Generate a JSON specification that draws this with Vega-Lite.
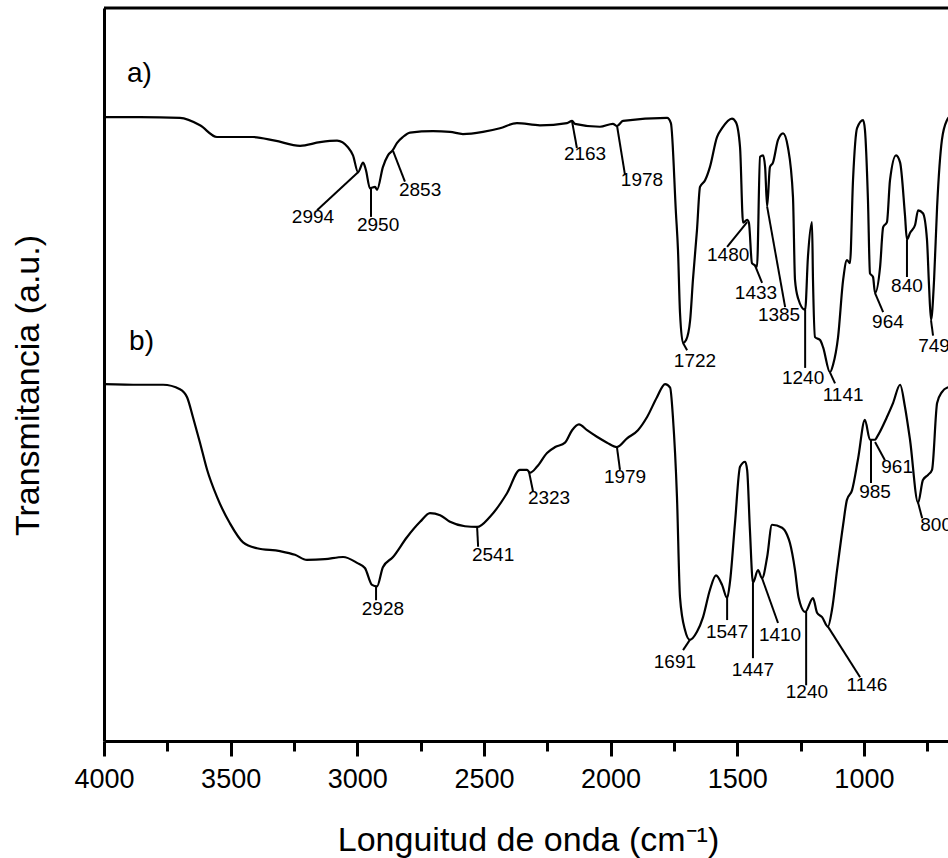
{
  "$schema": "https://vega.github.io/schema/vega-lite/v6.json",
  "width": 844,
  "height": 733,
  "autosize": {"type": "none"},
  "padding": {"left": 104, "top": 8, "right": 0, "bottom": 117},
  "config": {"font": "Liberation Sans", "view": {"stroke": null}},
  "datasets": {
    "spectra": [
      {"series":"a","wn":4000,"t":85.1},{"series":"a","wn":3858,"t":85.1},{"series":"a","wn":3700,"t":85.0},{"series":"a","wn":3621,"t":84.0},{"series":"a","wn":3554,"t":82.4},{"series":"a","wn":3483,"t":82.4},{"series":"a","wn":3412,"t":82.4},{"series":"a","wn":3325,"t":81.9},{"series":"a","wn":3226,"t":81.2},{"series":"a","wn":3147,"t":81.7},{"series":"a","wn":3080,"t":81.9},{"series":"a","wn":3037,"t":81.0},{"series":"a","wn":3017,"t":79.9},{"series":"a","wn":2997,"t":77.6},{"series":"a","wn":2977,"t":78.9},{"series":"a","wn":2966,"t":77.9},{"series":"a","wn":2950,"t":75.4},{"series":"a","wn":2930,"t":75.6},{"series":"a","wn":2922,"t":75.2},{"series":"a","wn":2899,"t":78.3},{"series":"a","wn":2879,"t":79.9},{"series":"a","wn":2860,"t":80.6},{"series":"a","wn":2843,"t":81.6},{"series":"a","wn":2820,"t":82.4},{"series":"a","wn":2792,"t":83.0},{"series":"a","wn":2701,"t":83.2},{"series":"a","wn":2634,"t":83.1},{"series":"a","wn":2583,"t":82.8},{"series":"a","wn":2504,"t":83.1},{"series":"a","wn":2437,"t":83.6},{"series":"a","wn":2370,"t":84.3},{"series":"a","wn":2279,"t":84.0},{"series":"a","wn":2172,"t":84.3},{"series":"a","wn":2152,"t":84.6},{"series":"a","wn":2141,"t":84.2},{"series":"a","wn":2042,"t":83.8},{"series":"a","wn":1991,"t":84.2},{"series":"a","wn":1975,"t":83.9},{"series":"a","wn":1951,"t":84.6},{"series":"a","wn":1777,"t":85.0},{"series":"a","wn":1762,"t":84.3},{"series":"a","wn":1742,"t":72.0},{"series":"a","wn":1734,"t":67.0},{"series":"a","wn":1726,"t":58.4},{"series":"a","wn":1714,"t":54.3},{"series":"a","wn":1702,"t":54.7},{"series":"a","wn":1686,"t":57.4},{"series":"a","wn":1675,"t":62.9},{"series":"a","wn":1659,"t":69.7},{"series":"a","wn":1647,"t":75.6},{"series":"a","wn":1627,"t":76.5},{"series":"a","wn":1608,"t":78.3},{"series":"a","wn":1580,"t":82.4},{"series":"a","wn":1560,"t":83.6},{"series":"a","wn":1521,"t":84.9},{"series":"a","wn":1505,"t":84.4},{"series":"a","wn":1489,"t":81.0},{"series":"a","wn":1477,"t":70.7},{"series":"a","wn":1461,"t":71.1},{"series":"a","wn":1454,"t":70.7},{"series":"a","wn":1442,"t":65.2},{"series":"a","wn":1430,"t":64.9},{"series":"a","wn":1422,"t":64.7},{"series":"a","wn":1410,"t":79.7},{"series":"a","wn":1398,"t":79.9},{"series":"a","wn":1390,"t":78.3},{"series":"a","wn":1382,"t":72.9},{"series":"a","wn":1371,"t":78.3},{"series":"a","wn":1359,"t":78.9},{"series":"a","wn":1339,"t":82.0},{"series":"a","wn":1319,"t":82.9},{"series":"a","wn":1300,"t":81.0},{"series":"a","wn":1280,"t":74.2},{"series":"a","wn":1272,"t":62.9},{"series":"a","wn":1260,"t":60.4},{"series":"a","wn":1232,"t":58.8},{"series":"a","wn":1221,"t":66.0},{"series":"a","wn":1205,"t":70.8},{"series":"a","wn":1201,"t":62.9},{"series":"a","wn":1193,"t":55.1},{"series":"a","wn":1173,"t":54.7},{"series":"a","wn":1161,"t":53.7},{"series":"a","wn":1134,"t":50.3},{"series":"a","wn":1122,"t":51.3},{"series":"a","wn":1102,"t":55.1},{"series":"a","wn":1082,"t":62.9},{"series":"a","wn":1067,"t":65.6},{"series":"a","wn":1055,"t":65.2},{"series":"a","wn":1043,"t":76.5},{"series":"a","wn":1027,"t":83.6},{"series":"a","wn":1003,"t":84.7},{"series":"a","wn":996,"t":83.4},{"series":"a","wn":984,"t":73.8},{"series":"a","wn":976,"t":63.8},{"series":"a","wn":964,"t":63.3},{"series":"a","wn":956,"t":61.1},{"series":"a","wn":936,"t":64.7},{"series":"a","wn":924,"t":70.1},{"series":"a","wn":909,"t":70.8},{"series":"a","wn":897,"t":76.5},{"series":"a","wn":873,"t":79.9},{"series":"a","wn":857,"t":78.9},{"series":"a","wn":838,"t":71.8},{"series":"a","wn":830,"t":68.4},{"series":"a","wn":818,"t":69.3},{"series":"a","wn":798,"t":70.4},{"series":"a","wn":786,"t":72.4},{"series":"a","wn":767,"t":72.0},{"series":"a","wn":751,"t":68.4},{"series":"a","wn":743,"t":62.2},{"series":"a","wn":735,"t":57.4},{"series":"a","wn":723,"t":62.9},{"series":"a","wn":711,"t":72.9},{"series":"a","wn":692,"t":82.0},{"series":"a","wn":672,"t":84.7},{"series":"a","wn":653,"t":85.4},
      {"series":"b","wn":4000,"t":48.7},{"series":"b","wn":3858,"t":48.6},{"series":"b","wn":3767,"t":48.6},{"series":"b","wn":3700,"t":48.0},{"series":"b","wn":3672,"t":46.9},{"series":"b","wn":3649,"t":44.2},{"series":"b","wn":3621,"t":40.7},{"series":"b","wn":3593,"t":37.0},{"series":"b","wn":3554,"t":33.3},{"series":"b","wn":3503,"t":29.7},{"series":"b","wn":3451,"t":27.1},{"series":"b","wn":3396,"t":26.3},{"series":"b","wn":3305,"t":25.9},{"series":"b","wn":3246,"t":25.4},{"series":"b","wn":3199,"t":24.7},{"series":"b","wn":3128,"t":24.8},{"series":"b","wn":3056,"t":25.1},{"series":"b","wn":3001,"t":24.3},{"series":"b","wn":2970,"t":23.6},{"series":"b","wn":2942,"t":21.3},{"series":"b","wn":2922,"t":21.1},{"series":"b","wn":2899,"t":23.7},{"series":"b","wn":2859,"t":25.1},{"series":"b","wn":2804,"t":27.8},{"series":"b","wn":2752,"t":29.9},{"series":"b","wn":2713,"t":31.1},{"series":"b","wn":2673,"t":30.8},{"series":"b","wn":2634,"t":29.9},{"series":"b","wn":2575,"t":29.3},{"series":"b","wn":2527,"t":29.2},{"series":"b","wn":2476,"t":30.6},{"series":"b","wn":2409,"t":33.8},{"series":"b","wn":2358,"t":37.0},{"series":"b","wn":2330,"t":37.0},{"series":"b","wn":2318,"t":36.6},{"series":"b","wn":2291,"t":37.4},{"series":"b","wn":2251,"t":39.3},{"series":"b","wn":2219,"t":40.1},{"series":"b","wn":2180,"t":40.7},{"series":"b","wn":2152,"t":42.4},{"series":"b","wn":2125,"t":43.2},{"series":"b","wn":2093,"t":42.4},{"series":"b","wn":2054,"t":41.5},{"series":"b","wn":2014,"t":40.7},{"series":"b","wn":1975,"t":40.1},{"series":"b","wn":1935,"t":41.3},{"series":"b","wn":1892,"t":42.4},{"series":"b","wn":1856,"t":44.2},{"series":"b","wn":1817,"t":46.9},{"series":"b","wn":1785,"t":48.7},{"series":"b","wn":1765,"t":48.2},{"series":"b","wn":1754,"t":44.2},{"series":"b","wn":1738,"t":33.3},{"series":"b","wn":1726,"t":19.6},{"series":"b","wn":1706,"t":15.1},{"series":"b","wn":1687,"t":13.8},{"series":"b","wn":1659,"t":14.9},{"series":"b","wn":1635,"t":16.9},{"series":"b","wn":1608,"t":20.6},{"series":"b","wn":1584,"t":22.6},{"series":"b","wn":1560,"t":21.3},{"series":"b","wn":1540,"t":19.5},{"series":"b","wn":1529,"t":21.6},{"series":"b","wn":1509,"t":29.7},{"series":"b","wn":1489,"t":37.4},{"series":"b","wn":1469,"t":38.1},{"series":"b","wn":1461,"t":37.0},{"series":"b","wn":1450,"t":28.8},{"series":"b","wn":1438,"t":21.6},{"series":"b","wn":1418,"t":23.3},{"series":"b","wn":1402,"t":22.2},{"series":"b","wn":1382,"t":25.1},{"series":"b","wn":1363,"t":29.5},{"series":"b","wn":1323,"t":29.1},{"series":"b","wn":1303,"t":28.1},{"series":"b","wn":1292,"t":27.0},{"series":"b","wn":1272,"t":23.3},{"series":"b","wn":1258,"t":19.6},{"series":"b","wn":1232,"t":17.6},{"series":"b","wn":1201,"t":19.5},{"series":"b","wn":1185,"t":17.5},{"series":"b","wn":1165,"t":16.9},{"series":"b","wn":1142,"t":15.6},{"series":"b","wn":1126,"t":17.9},{"series":"b","wn":1106,"t":23.3},{"series":"b","wn":1082,"t":29.5},{"series":"b","wn":1067,"t":32.9},{"series":"b","wn":1047,"t":34.2},{"series":"b","wn":1023,"t":38.5},{"series":"b","wn":996,"t":43.8},{"series":"b","wn":976,"t":41.1},{"series":"b","wn":956,"t":41.1},{"series":"b","wn":948,"t":41.5},{"series":"b","wn":909,"t":44.2},{"series":"b","wn":885,"t":46.1},{"series":"b","wn":857,"t":48.6},{"series":"b","wn":838,"t":45.6},{"series":"b","wn":818,"t":41.1},{"series":"b","wn":786,"t":32.5},{"series":"b","wn":767,"t":35.6},{"series":"b","wn":747,"t":36.3},{"series":"b","wn":731,"t":37.0},{"series":"b","wn":711,"t":46.1},{"series":"b","wn":692,"t":47.6},{"series":"b","wn":672,"t":48.2},{"series":"b","wn":652,"t":48.3}
    ],
    "leaders": [
      {"x":2997,"y":77.6,"x2":3159,"y2":72.4},
      {"x":2946,"y":75.4,"x2":2946,"y2":71.5},
      {"x":2859,"y":80.5,"x2":2812,"y2":76.3},
      {"x":2152,"y":84.5,"x2":2133,"y2":80.9},
      {"x":1975,"y":84.0,"x2":1943,"y2":77.2},
      {"x":1714,"y":54.3,"x2":1698,"y2":53.3},
      {"x":1461,"y":70.8,"x2":1540,"y2":67.4},
      {"x":1430,"y":64.9,"x2":1402,"y2":62.5},
      {"x":1382,"y":72.9,"x2":1311,"y2":59.2},
      {"x":1232,"y":58.8,"x2":1232,"y2":50.9},
      {"x":1134,"y":50.3,"x2":1114,"y2":48.8},
      {"x":956,"y":61.1,"x2":924,"y2":58.5},
      {"x":830,"y":68.4,"x2":830,"y2":63.3},
      {"x":735,"y":57.4,"x2":727,"y2":55.3},
      {"x":2926,"y":21.1,"x2":2926,"y2":19.2},
      {"x":2527,"y":29.2,"x2":2523,"y2":26.5},
      {"x":2322,"y":36.7,"x2":2306,"y2":34.0},
      {"x":1975,"y":40.1,"x2":1963,"y2":37.0},
      {"x":1687,"y":13.8,"x2":1714,"y2":12.4},
      {"x":1540,"y":19.5,"x2":1540,"y2":16.5},
      {"x":1438,"y":21.6,"x2":1438,"y2":11.3},
      {"x":1402,"y":22.2,"x2":1339,"y2":16.1},
      {"x":1228,"y":17.6,"x2":1228,"y2":7.6},
      {"x":1142,"y":15.6,"x2":1015,"y2":8.7},
      {"x":972,"y":41.1,"x2":972,"y2":35.2},
      {"x":956,"y":40.8,"x2":917,"y2":38.3},
      {"x":786,"y":32.5,"x2":770,"y2":30.4}
    ],
    "labels": [
      {"x":3175,"y":71.5,"label":"2994"},
      {"x":2918,"y":70.4,"label":"2950"},
      {"x":2752,"y":75.2,"label":"2853"},
      {"x":2101,"y":80.1,"label":"2163"},
      {"x":1876,"y":76.5,"label":"1978"},
      {"x":1667,"y":51.8,"label":"1722"},
      {"x":1536,"y":66.3,"label":"1480"},
      {"x":1426,"y":61.1,"label":"1433"},
      {"x":1335,"y":58.1,"label":"1385"},
      {"x":1240,"y":49.5,"label":"1240"},
      {"x":1082,"y":47.2,"label":"1141"},
      {"x":905,"y":57.2,"label":"964"},
      {"x":830,"y":62.1,"label":"840"},
      {"x":723,"y":53.9,"label":"749"},
      {"x":2899,"y":18.0,"label":"2928"},
      {"x":2464,"y":25.4,"label":"2541"},
      {"x":2243,"y":33.2,"label":"2323"},
      {"x":1943,"y":36.0,"label":"1979"},
      {"x":1746,"y":10.8,"label":"1691"},
      {"x":1540,"y":14.9,"label":"1547"},
      {"x":1438,"y":9.7,"label":"1447"},
      {"x":1331,"y":14.5,"label":"1410"},
      {"x":1225,"y":6.7,"label":"1240"},
      {"x":988,"y":7.6,"label":"1146"},
      {"x":956,"y":34.0,"label":"985"},
      {"x":869,"y":37.4,"label":"961"},
      {"x":715,"y":29.5,"label":"800"}
    ],
    "panels": [
      {"x":3909,"y":89.9,"label":"a)"},
      {"x":3901,"y":53.3,"label":"b)"}
    ]
  },
  "layer": [
    {
      "data": {"name": "spectra"},
      "mark": {"type": "line", "color": "black", "strokeWidth": 2.2, "clip": true, "interpolate": "monotone"},
      "encoding": {
        "x": {
          "field": "wn", "type": "quantitative",
          "scale": {"domain": [668, 4000], "reverse": true, "nice": false, "zero": false},
          "axis": {
            "values": [4000,3750,3500,3250,3000,2750,2500,2250,2000,1750,1500,1250,1000,750],
            "format": "d",
            "labelExpr": "datum.value % 500 === 0 ? datum.label : ''",
            "tickSize": {"condition": {"test": "datum.value % 500 === 0", "value": 15}, "value": 10},
            "tickWidth": 3, "tickColor": "black",
            "domainWidth": 3, "domainColor": "black",
            "grid": false,
            "labelFontSize": 27, "labelColor": "black", "labelPadding": 10, "labelFlush": false, "labelOverlap": false,
            "title": "Longuitud de onda (cm⁻¹)",
            "titleFontSize": 34, "titleFontWeight": "normal", "titleColor": "black",
            "titleBaseline": "alphabetic", "titleY": 109, "titleX": 424
          }
        },
        "y": {
          "field": "t", "type": "quantitative",
          "scale": {"domain": [0, 100], "nice": false, "zero": false},
          "axis": {
            "ticks": false, "labels": false, "grid": false,
            "domainWidth": 3, "domainColor": "black",
            "title": "Transmitancia (a.u.)",
            "titleFontSize": 34, "titleFontWeight": "normal", "titleColor": "black",
            "titleAngle": 270, "titleBaseline": "alphabetic", "titleAlign": "center",
            "titleX": -66, "titleY": 377
          }
        },
        "detail": {"field": "series"}
      }
    },
    {
      "data": {"name": "leaders"},
      "mark": {"type": "rule", "color": "black", "strokeWidth": 2},
      "encoding": {
        "x": {"field": "x", "type": "quantitative"},
        "y": {"field": "y", "type": "quantitative"},
        "x2": {"field": "x2"},
        "y2": {"field": "y2"}
      }
    },
    {
      "data": {"name": "labels"},
      "mark": {"type": "text", "fontSize": 19, "color": "black", "align": "center", "baseline": "middle"},
      "encoding": {
        "x": {"field": "x", "type": "quantitative"},
        "y": {"field": "y", "type": "quantitative"},
        "text": {"field": "label"}
      }
    },
    {
      "data": {"name": "panels"},
      "mark": {"type": "text", "fontSize": 28, "color": "black", "align": "left", "baseline": "alphabetic"},
      "encoding": {
        "x": {"field": "x", "type": "quantitative"},
        "y": {"field": "y", "type": "quantitative"},
        "text": {"field": "label"}
      }
    },
    {
      "data": {"values": [{}]},
      "mark": {"type": "rule", "color": "black", "strokeWidth": 3},
      "encoding": {"y": {"datum": 100}}
    }
  ]
}
